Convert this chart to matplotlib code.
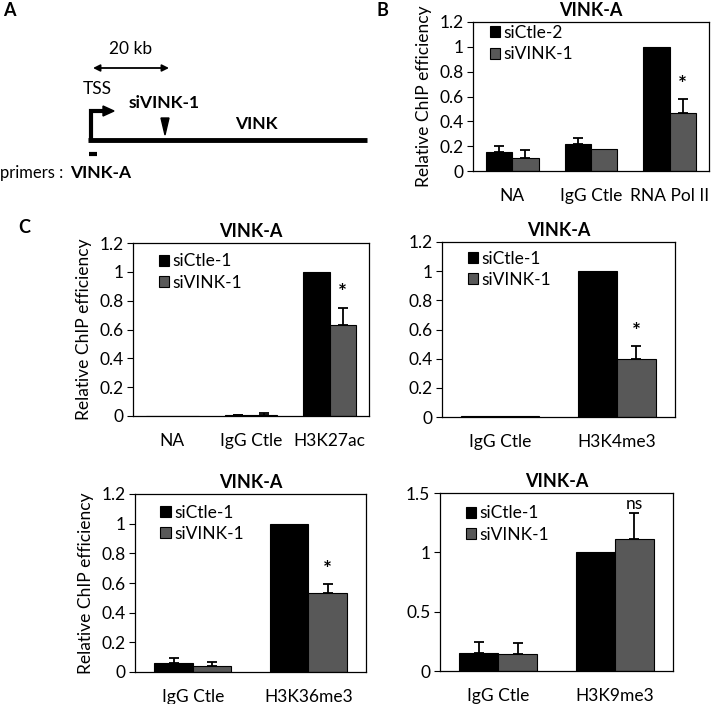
import numpy as np
import matplotlib
matplotlib.use("Agg")
import matplotlib.pyplot as plt
from matplotlib.patches import Patch, Polygon

plt.rcParams['font.family'] = ['Lato', 'DejaVu Sans']
FS = 12.5

W, H = 714, 704

# ---------------- data ----------------
legend_labels_B = ['siCtle-2', 'siVINK-1']
legend_labels_C = ['siCtle-1', 'siVINK-1']

b_cats = ['NA', 'IgG Ctle', 'RNA Pol II']
b_ctl = [0.15, 0.215, 1.0]
b_ctl_err = [0.05, 0.048, 0.0]
b_vink = [0.105, 0.175, 0.465]
b_vink_err = [0.064, 0.0, 0.117]
b_marks = ['', '', '*']

c1_cats = ['NA', 'IgG Ctle', 'H3K27ac']
c1_ctl = [0.0, 0.006, 1.0]
c1_ctl_err = [0.0, 0.003, 0.0]
c1_vink = [0.0, 0.010, 0.63]
c1_vink_err = [0.0, 0.010, 0.12]
c1_marks = ['', '', '*']

c2_cats = ['IgG Ctle', 'H3K4me3']
c2_ctl = [0.004, 1.0]
c2_ctl_err = [0.0, 0.0]
c2_vink = [0.004, 0.395]
c2_vink_err = [0.0, 0.09]
c2_marks = ['', '*']

c3_cats = ['IgG Ctle', 'H3K36me3']
c3_ctl = [0.06, 1.0]
c3_ctl_err = [0.033, 0.0]
c3_vink = [0.04, 0.535]
c3_vink_err = [0.03, 0.055]
c3_marks = ['', '*']

c4_cats = ['IgG Ctle', 'H3K9me3']
c4_ctl = [0.155, 1.0]
c4_ctl_err = [0.093, 0.0]
c4_vink = [0.14, 1.11]
c4_vink_err = [0.10, 0.225]
c4_marks = ['', 'ns']

yt_12 = [0, 0.2, 0.4, 0.6, 0.8, 1, 1.2]
yt_12_lbl = ['0', '0.2', '0.4', '0.6', '0.8', '1', '1.2']
yt_15 = [0, 0.5, 1, 1.5]
yt_15_lbl = ['0', '0.5', '1', '1.5']

GREY = '#585858'

fig = plt.figure(figsize=(W / 100, H / 100), dpi=100)


def box(l, t, r, b):
    return [l / W, 1 - b / H, (r - l) / W, (b - t) / H]


# ---------------- panel A (diagram) ----------------
ax0 = fig.add_axes([0, 0, 1, 1])
ax0.set_xlim(0, W)
ax0.set_ylim(H, 0)
ax0.axis('off')
ax0.annotate('', xy=(93, 68), xytext=(169, 68),
             arrowprops=dict(arrowstyle='<|-|>', color='black', lw=1.3,
                             mutation_scale=10, shrinkA=0, shrinkB=0))
ax0.text(131, 49, '20 kb', ha='center', va='center', fontsize=FS)
ax0.text(97, 89, 'TSS', ha='center', va='center', fontsize=FS)
ax0.plot([90.5, 90.5, 104], [141, 111, 111], color='black', lw=3,
         solid_joinstyle='miter', solid_capstyle='butt')
ax0.add_patch(Polygon([[103, 106], [114, 111], [103, 116]], closed=True,
                      color='black'))
ax0.text(164, 103, 'siVINK-1', ha='center', va='center', fontsize=FS,
         fontweight='bold')
ax0.add_patch(Polygon([[161, 118], [169, 118], [165, 135]], closed=True,
                      color='black'))
ax0.text(256, 124, 'VINK', ha='center', va='center', fontsize=FS,
         fontweight='bold')
ax0.plot([88, 367], [140, 140], color='black', lw=3.5, solid_capstyle='butt')
ax0.plot([89, 97], [154, 154], color='black', lw=3, solid_capstyle='butt')
ax0.text(0, 173, 'primers :', ha='left', va='center', fontsize=12)
ax0.text(101, 173, 'VINK-A', ha='center', va='center', fontsize=FS,
         fontweight='bold')

fig.text(3 / W, 1 - 10 / H, 'A', fontsize=13, fontweight='bold', va='center')
fig.text(377 / W, 1 - 10 / H, 'B', fontsize=13, fontweight='bold', va='center')
fig.text(18 / W, 1 - 227 / H, 'C', fontsize=13, fontweight='bold', va='center')


def draw_panel(rect, cats, ctl, ctl_err, vink, vink_err, marks, labels,
               ymax, yticks, ylabels, ylabel, leg_anchor, mark_off):
    ax = fig.add_axes(rect)
    n = len(cats)
    x = np.arange(n)
    w = 1 / 3
    ax.bar(x - w / 2, ctl, w, color='black', edgecolor='black', lw=0.8,
           zorder=2)
    ax.bar(x + w / 2, vink, w, color=GREY, edgecolor='black', lw=0.8,
           zorder=2)
    for xs, vals, errs in ((x - w / 2, ctl, ctl_err),
                           (x + w / 2, vink, vink_err)):
        for xi, v, e in zip(xs, vals, errs):
            if e > 0:
                ax.errorbar([xi], [v], yerr=[[0], [e]], fmt='none',
                            ecolor='black', elinewidth=1.3, capsize=3.5,
                            capthick=1.3, zorder=1)
    for xi, v, e, m in zip(x + w / 2, vink, vink_err, marks):
        if m:
            if m == 'ns':
                ax.text(xi, v + e + mark_off, m, ha='center', va='center',
                        fontsize=FS)
            else:
                ax.text(xi, v + e + mark_off, m, ha='center', va='center',
                        fontsize=15, fontweight='bold')
    ax.set_xlim(-0.5, n - 0.5)
    ax.set_ylim(0, ymax)
    ax.set_yticks(yticks)
    ax.set_yticklabels(ylabels, fontsize=FS)
    ax.set_xticks(x)
    ax.set_xticklabels(cats, fontsize=FS)
    ax.tick_params(axis='x', length=0, pad=12)
    ax.tick_params(axis='y', direction='out', length=4, width=0.8, pad=3)
    for s in ax.spines.values():
        s.set_color('black')
        s.set_linewidth(0.9)
    if ylabel:
        ax.set_ylabel(ylabel, fontsize=FS, labelpad=5)
    ax.set_title('VINK-A', fontsize=13, fontweight='bold', pad=4)
    handles = [Patch(facecolor='black', edgecolor='black', lw=0.8),
               Patch(facecolor=GREY, edgecolor='black', lw=0.8)]
    ax.legend(handles, labels, loc='upper left', bbox_to_anchor=leg_anchor,
              frameon=False, fontsize=FS, handlelength=0.6, handleheight=0.6,
              handletextpad=0.2, labelspacing=0.3, borderpad=0,
              borderaxespad=0)
    return ax


ylab = 'Relative ChIP efficiency'
draw_panel(box(473, 22, 709, 171), b_cats, b_ctl, b_ctl_err, b_vink,
           b_vink_err, b_marks, legend_labels_B, 1.2, yt_12, yt_12_lbl,
           ylab, (0.07, 0.98), 0.11)
draw_panel(box(133, 243, 369, 416), c1_cats, c1_ctl, c1_ctl_err, c1_vink,
           c1_vink_err, c1_marks, legend_labels_C, 1.2, yt_12, yt_12_lbl,
           ylab, (0.11, 0.94), 0.10)
draw_panel(box(442, 242, 675, 417), c2_cats, c2_ctl, c2_ctl_err, c2_vink,
           c2_vink_err, c2_marks, legend_labels_C, 1.2, yt_12, yt_12_lbl,
           None, (0.11, 0.95), 0.10)
draw_panel(box(135, 494, 366, 672), c3_cats, c3_ctl, c3_ctl_err, c3_vink,
           c3_vink_err, c3_marks, legend_labels_C, 1.2, yt_12, yt_12_lbl,
           ylab, (0.11, 0.94), 0.10)
draw_panel(box(440, 493, 673, 671), c4_cats, c4_ctl, c4_ctl_err, c4_vink,
           c4_vink_err, c4_marks, legend_labels_C, 1.5, yt_15, yt_15_lbl,
           None, (0.11, 0.93), 0.07)

fig.savefig('out.png', dpi=100)
